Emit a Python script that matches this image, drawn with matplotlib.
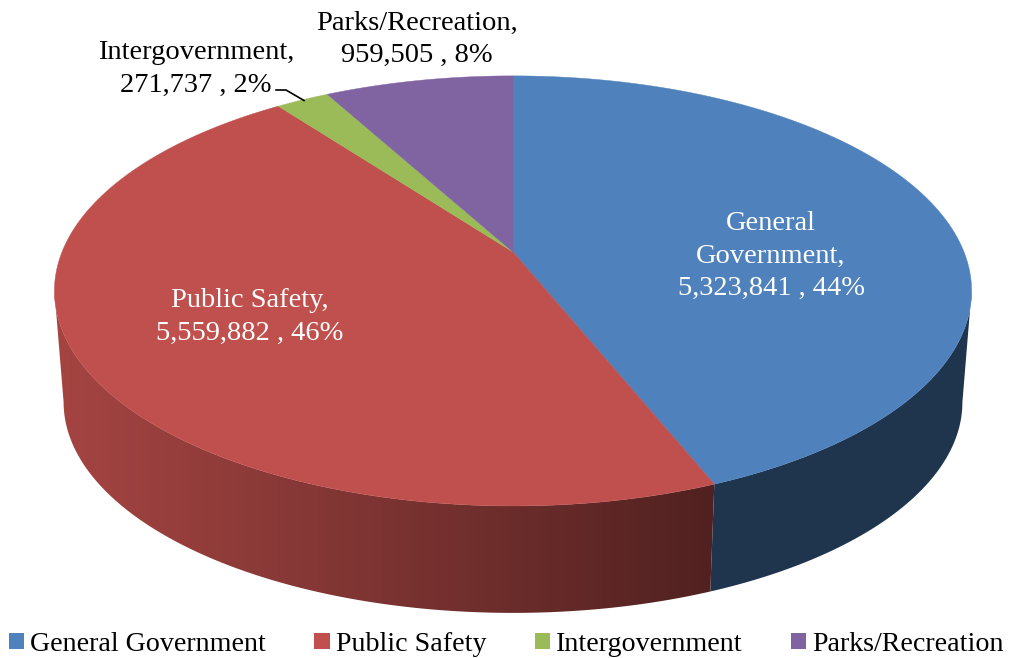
import numpy as np
import matplotlib
matplotlib.use("Agg")
import matplotlib.pyplot as plt
from matplotlib.patches import Patch, Polygon

names = ["General Government", "Public Safety", "Intergovernment", "Parks/Recreation"]
values = [5323841, 5559882, 271737, 959505]
percents = [44, 46, 2, 8]
colors = ["#4F81BD", "#C0504D", "#9BBB59", "#8064A2"]

plt.rcParams["font.family"] = ["Liberation Serif", "DejaVu Serif"]
FS = 20.5

# pie geometry in pixels, k is the perspective strength
CX, CY = 513, 252
A, B, K = 451, 208, 0.181
SCALE2, CY2 = 0.98, 364
# angle where the rim turns away from the viewer
T_SIDE = np.degrees(np.arccos(-K))


def project(t, bottom=False):
    # t in degrees, clockwise from the top of the pie
    r = np.radians(t)
    u, v = np.sin(r), np.cos(r)
    w = 1 + K * v
    s, cy = (SCALE2, CY2) if bottom else (1.0, CY)
    return CX + s * A * u / w, cy - s * B * v / w


def wall_polygon(t0, t1):
    ts = np.linspace(t0, t1, 200)
    x1, y1 = project(ts)
    x2, y2 = project(ts, bottom=True)
    return np.c_[np.r_[x1, x2[::-1]], np.r_[y1, y2[::-1]]]


fig = plt.figure(figsize=(10.22, 6.58), dpi=100)
ax = fig.add_axes([0, 0, 1, 1])

edges = np.cumsum([0] + values) / sum(values) * 360

# side walls: flat dark blue, red shaded from left to right
blue_wall = Polygon(wall_polygon(T_SIDE, edges[1]), closed=True, facecolor="#1F344D", edgecolor="none")
ax.add_patch(blue_wall)

red = np.array(matplotlib.colors.to_rgb(colors[1]))
xs = np.arange(40, 730)
shade = np.interp(xs, [54, 375, 710], [0.86, 0.65, 0.42])
grad = (shade[:, None] * red)[None, :, :]
red_wall = Polygon(wall_polygon(edges[1], 360 - T_SIDE), closed=True, facecolor="none", edgecolor="none")
ax.add_patch(red_wall)
im = ax.imshow(grad, extent=(40, 730, 658, 0), aspect="auto", interpolation="bilinear", zorder=1)
im.set_clip_path(red_wall)

# top face
for i in range(len(values)):
    ts = np.linspace(edges[i], edges[i + 1], 300)
    x, y = project(ts)
    ax.fill(np.r_[CX, x], np.r_[CY, y], color=colors[i], lw=0.3, zorder=3)

label_pos = [(771, 256), (250, 317), (196, 69), (417, 39)]
label_col = ["white", "white", "black", "black"]
label_txt = [
    f"General\nGovernment,\n{values[0]:,} , {percents[0]}%",
    f"{names[1]},\n{values[1]:,} , {percents[1]}%",
    f"{names[2]},\n{values[2]:,} , {percents[2]}%",
    f"{names[3]},\n{values[3]:,} , {percents[3]}%",
]
for (lx, ly), c, txt in zip(label_pos, label_col, label_txt):
    ax.text(lx, ly, txt, color=c, fontsize=FS, ha="center", va="center",
            linespacing=1.37, zorder=5)

# leader line for the small slice
ax.plot([276, 286, 304], [90, 90, 100.5], color="black", lw=1.2, zorder=4)

ax.set_xlim(0, 1022)
ax.set_ylim(658, 0)
ax.axis("off")

handles = [Patch(facecolor=c, edgecolor="none") for c in colors]
fig.legend(handles, names, ncol=4, frameon=False, fontsize=20.2,
           loc="lower left", bbox_to_anchor=(9 / 1022, 1 / 658), borderaxespad=0,
           borderpad=0, handlelength=0.54, handleheight=0.54,
           handletextpad=0.22, columnspacing=1.72)

fig.savefig("out.png", dpi=100)
